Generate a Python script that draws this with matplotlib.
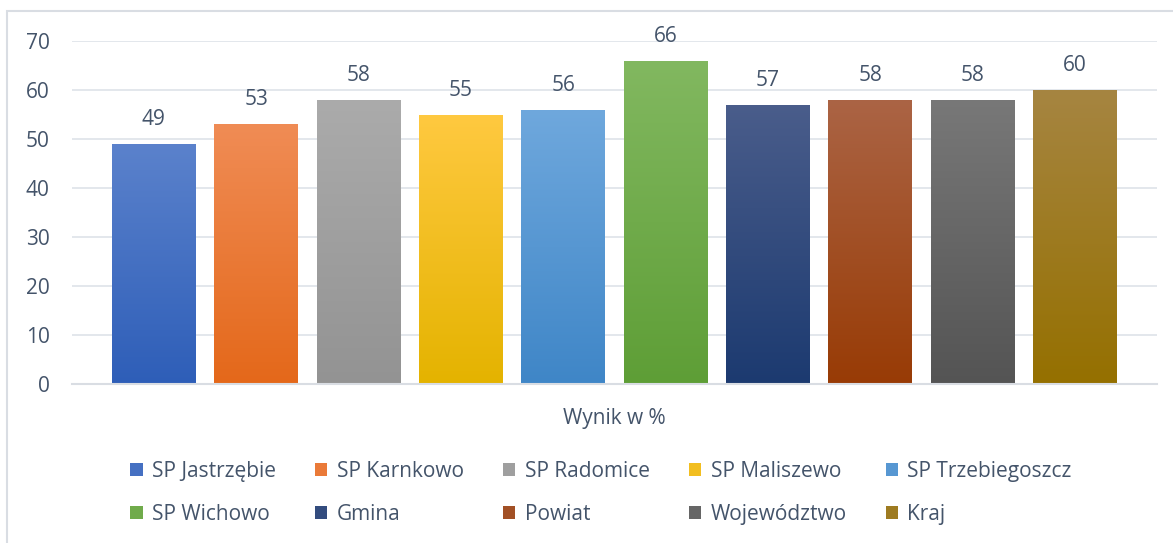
import matplotlib

matplotlib.use("Agg")

import matplotlib.pyplot as plt
import numpy as np
from matplotlib.colors import LinearSegmentedColormap
from matplotlib.patches import Patch, Rectangle

SCHOOLS = [
    "SP Jastrzębie",
    "SP Karnkowo",
    "SP Radomice",
    "SP Maliszewo",
    "SP Trzebiegoszcz",
    "SP Wichowo",
    "Gmina",
    "Powiat",
    "Województwo",
    "Kraj",
]
SCORES = [49, 53, 58, 55, 56, 66, 57, 58, 58, 60]
Y_TICKS = [0, 10, 20, 30, 40, 50, 60, 70]
X_LABEL = "Wynik w %"

# gradient colours, top -> bottom, Excel office theme look
TOP_COLORS = ["#5b82cc", "#f08c55", "#ababab", "#ffc940", "#6fa8dd",
              "#82b860", "#4a5d8b", "#ab6445", "#787878", "#a68541"]
BOTTOM_COLORS = ["#2e5eb8", "#e4681a", "#939393", "#e4b300", "#3f86c7",
                 "#5e9e36", "#1c3a70", "#983b05", "#545454", "#957000"]

TEXT = "#44546a"
FONT = "Open Sans"

plt.rcParams["font.family"] = [FONT, "DejaVu Sans"]

W, H = 1173, 543
fig = plt.figure(figsize=(W / 100, H / 100), dpi=100)
fig.patch.set_facecolor("white")

# outer chart frame (runs off the right and bottom edges)
fig.patches.append(
    Rectangle((7 / W, -0.05), 1.1, 1 - 11 / H + 0.05, transform=fig.transFigure,
              fill=False, edgecolor="#d9dde3", linewidth=1.5, zorder=0)
)

ax = fig.add_axes([72 / W, 1 - 384 / H, (1157 - 72) / W, (384 - 41) / H])
ax.set_facecolor("white")

x = np.arange(len(SCHOOLS))
bars = ax.bar(x, SCORES, width=0.82, color="none", edgecolor="none", zorder=3)
grad = np.linspace(0, 1, 256).reshape(-1, 1)
for bar, top, bottom in zip(bars, TOP_COLORS, BOTTOM_COLORS):
    cmap = LinearSegmentedColormap.from_list("g", [bottom, top])
    x0, y0 = bar.get_x(), bar.get_y()
    im = ax.imshow(grad, cmap=cmap, origin="lower", aspect="auto",
                   extent=(x0, x0 + bar.get_width(), y0, y0 + bar.get_height()),
                   zorder=3, interpolation="bicubic")
    im.set_clip_path(bar)
    ax.annotate(f"{bar.get_height():g}", (x0 + bar.get_width() / 2, bar.get_height()),
                xytext=(0, 10), textcoords="offset points", ha="center", va="bottom",
                fontsize=15, color=TEXT)

ax.set_xlim(-0.8, 9.8)
ax.set_ylim(0, 70)
ax.set_yticks(Y_TICKS)
ax.set_xticks([])
ax.tick_params(axis="y", length=0, pad=16, labelsize=15, labelcolor=TEXT)
ax.grid(axis="y", color="#e1e5eb", linewidth=1.3, zorder=0)
ax.set_axisbelow(True)
for side in ["top", "right", "left"]:
    ax.spines[side].set_visible(False)
ax.spines["bottom"].set_color("#d9dde3")
ax.spines["bottom"].set_linewidth(1.5)
ax.spines["bottom"].set_zorder(4)
ax.set_xlabel(X_LABEL, fontsize=15, color=TEXT, labelpad=17)

# legend swatches use mid gradient colour; reorder so rows fill left to right
handles = []
for top, bottom in zip(TOP_COLORS, BOTTOM_COLORS):
    c = LinearSegmentedColormap.from_list("g", [bottom, top])(0.5)
    handles.append(Patch(facecolor=c, edgecolor="none"))
order = [0, 5, 1, 6, 2, 7, 3, 8, 4, 9]
fig.legend([handles[i] for i in order], [SCHOOLS[i] for i in order], ncol=5,
           loc="center", bbox_to_anchor=(601 / W, 1 - 493 / H),
           frameon=False, fontsize=15, labelcolor=TEXT, handlelength=0.6, handleheight=0.6,
           handletextpad=0.45, columnspacing=1.87, labelspacing=1.05, borderpad=0)

fig.savefig("out.png", dpi=100)
